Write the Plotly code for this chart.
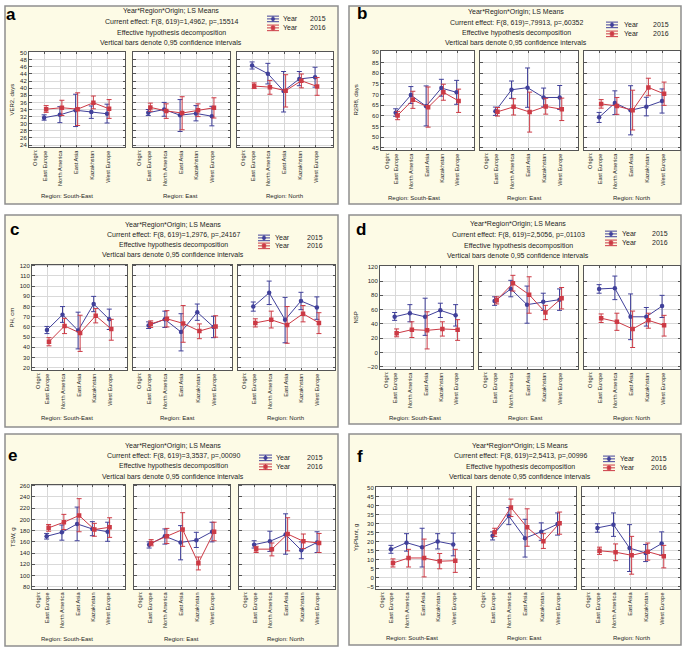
import plotly.graph_objects as go

W, H = 685, 648

CATEGORIES = ["East Europe", "North America", "East Asia", "Kazakhstan", "West Europe"]
REGIONS = ["South-East", "East", "North"]
YEARS = ["2015", "2016"]

# ---- a: VER2, days  (rows: South-East, East, North) ----
VER2_2015_MEAN = [[31.7, 32.5, 33.8, 33.3, 32.8], [33.1, 34.0, 32.4, 32.9, 32.1], [46.4, 44.1, 39.2, 42.6, 43.1]]
VER2_2015_LO = [[31.0, 30.3, 29.2, 31.5, 30.2], [32.3, 32.1, 27.8, 30.8, 29.4], [45.4, 41.2, 33.3, 40.7, 40.3]]
VER2_2015_HI = [[32.5, 34.8, 38.3, 35.0, 35.5], [34.0, 36.0, 36.8, 35.1, 34.9], [47.4, 47.0, 44.7, 44.7, 45.9]]
VER2_2016_MEAN = [[34.1, 34.5, 34.1, 35.9, 34.2], [34.6, 33.6, 33.0, 33.8, 34.5], [40.6, 40.3, 39.3, 42.1, 40.5]]
VER2_2016_LO = [[33.2, 32.3, 29.5, 34.2, 31.5], [33.5, 31.5, 28.3, 32.0, 31.6], [39.9, 38.3, 34.7, 40.1, 38.0]]
VER2_2016_HI = [[35.1, 36.6, 38.7, 37.8, 36.8], [35.8, 35.6, 37.6, 35.6, 37.3], [41.5, 42.2, 43.8, 44.0, 43.0]]

# ---- b: R2R8, days ----
R2R8_2015_MEAN = [[61.5, 69.7, 64.5, 73.0, 71.0], [62.2, 72.2, 73.2, 68.6, 68.6], [59.3, 66.0, 62.6, 64.3, 66.9]]
R2R8_2015_LO = [[59.8, 65.8, 55.3, 69.2, 65.4], [60.2, 68.2, 64.0, 64.2, 63.0], [56.9, 60.6, 51.1, 60.0, 61.3]]
R2R8_2015_HI = [[63.3, 73.7, 74.0, 77.1, 76.6], [64.1, 76.3, 82.4, 73.0, 74.2], [61.6, 71.7, 74.1, 68.7, 72.6]]
R2R8_2016_MEAN = [[60.2, 67.5, 64.0, 71.0, 67.0], [61.9, 64.2, 61.8, 64.4, 63.1], [65.6, 64.6, 62.6, 73.3, 70.3]]
R2R8_2016_LO = [[58.2, 63.5, 54.7, 67.3, 61.6], [59.9, 60.4, 52.4, 60.8, 57.8], [63.6, 60.7, 53.4, 69.4, 64.9]]
R2R8_2016_HI = [[62.1, 71.5, 73.5, 74.8, 72.5], [63.9, 68.0, 71.1, 68.2, 68.3], [67.6, 68.6, 72.0, 77.6, 75.8]]

# ---- c: PH, cm ----
PH_2015_MEAN = [[57.0, 72.0, 56.5, 82.5, 67.5], [61.5, 67.5, 55.0, 74.5, 60.0], [80.0, 93.5, 67.0, 85.5, 79.0]]
PH_2015_LO = [[53.5, 64.5, 38.5, 75.0, 57.5], [58.5, 59.5, 36.5, 66.5, 49.5], [75.5, 82.0, 44.5, 77.0, 67.5]]
PH_2015_HI = [[60.5, 80.0, 74.5, 90.0, 77.5], [65.0, 75.5, 73.0, 82.5, 70.5], [84.5, 105.0, 89.0, 94.0, 89.5]]
PH_2016_MEAN = [[45.5, 61.0, 54.0, 71.0, 58.0], [63.0, 68.0, 63.5, 56.0, 60.5], [64.0, 67.0, 62.0, 73.0, 64.0]]
PH_2016_LO = [[41.5, 53.5, 36.0, 64.0, 47.0], [59.5, 60.0, 45.0, 48.5, 50.0], [60.0, 59.0, 44.0, 65.0, 53.5]]
PH_2016_HI = [[49.5, 68.5, 71.5, 78.0, 67.5], [66.0, 76.0, 81.0, 63.0, 71.0], [68.0, 75.5, 80.0, 81.0, 74.0]]

# ---- d: NSP ----
NSP_2015_MEAN = [[50, 55, 50, 59, 52], [72, 89, 67, 71, 74], [89, 90, 50, 50, 65]]
NSP_2015_LO = [[45, 43, 24, 49, 37], [66, 78, 41, 59, 59], [83, 74, 18, 37, 49]]
NSP_2015_HI = [[56, 67, 76, 69, 67], [78, 101, 93, 83, 89], [95, 107, 82, 63, 80]]
NSP_2016_MEAN = [[27, 32, 31, 33, 32], [73, 97, 81, 56, 76], [48, 43, 33, 45, 38]]
NSP_2016_LO = [[22, 21, 5, 23, 17], [68, 86, 55, 46, 61], [42, 31, 7, 34, 23]]
NSP_2016_HI = [[33, 43, 57, 43, 46], [78, 108, 106, 66, 91], [54, 55, 58, 55, 52]]

# ---- e: TSW, g ----
TSW_2015_MEAN = [[170, 177, 192, 183, 178], [155, 170, 159, 163, 178], [155, 161, 173, 145, 159]]
TSW_2015_LO = [[165, 163, 162, 171, 161], [149, 156, 128, 150, 160], [149, 143, 138, 130, 141]]
TSW_2015_HI = [[175, 190, 222, 196, 195], [160, 183, 189, 177, 195], [162, 179, 210, 160, 178]]
TSW_2016_MEAN = [[185, 195, 207, 182, 186], [158, 170, 182, 122, 178], [147, 147, 174, 161, 158]]
TSW_2016_LO = [[179, 182, 178, 170, 168], [153, 157, 152, 110, 162], [141, 135, 144, 148, 141]]
TSW_2016_HI = [[191, 209, 237, 193, 203], [164, 184, 212, 133, 195], [152, 158, 203, 174, 175]]

# ---- f: YpPlant, g ----
YP_2015_MEAN = [[15.8, 19.5, 17.0, 20.2, 18.5], [23.3, 34.3, 22.0, 25.6, 29.8], [27.7, 29.5, 16.5, 13.8, 19.0]]
YP_2015_LO = [[13.6, 14.8, 6.0, 16.0, 12.2], [21.0, 29.5, 11.5, 20.8, 23.7], [25.3, 23.0, 3.5, 9.0, 12.5]]
YP_2015_HI = [[18.0, 24.5, 27.5, 24.5, 24.8], [25.5, 39.0, 32.5, 30.5, 36.0], [30.0, 36.0, 29.5, 18.5, 25.5]]
YP_2016_MEAN = [[8.2, 11.0, 11.0, 9.2, 9.5], [25.3, 39.0, 28.0, 20.3, 30.3], [15.0, 14.2, 12.5, 14.5, 12.0]]
YP_2016_LO = [[6.0, 6.0, 0.5, 5.0, 3.0], [23.0, 34.0, 17.5, 16.3, 24.2], [13.0, 9.5, 2.0, 9.8, 5.5]]
YP_2016_HI = [[10.5, 15.8, 21.5, 13.5, 15.8], [27.5, 43.7, 38.3, 24.5, 36.5], [17.0, 18.8, 23.0, 19.3, 18.0]]

Y_LABELS = ["VER2, days", "R2R8, days", "PH, cm", "NSP", "TSW, g", "YpPlant, g"]
EFFECTS = [
    "Current effect: F(8, 619)=1,4962, p=,15514",
    "Current effect: F(8, 619)=,79913, p=,60352",
    "Current effect: F(8, 619)=1,2976, p=,24167",
    "Current effect: F(8, 619)=2,5056, p=,01103",
    "Current effect: F(8, 619)=3,3537, p=,00090",
    "Current effect: F(8, 619)=2,5413, p=,00996",
]
Y_TICKS = [(24, 50, 2), (45, 90, 5), (20, 120, 10), (-20, 120, 20), (80, 260, 20), (-5, 50, 5)]
LETTERS = ["a", "b", "c", "d", "e", "f"]

DATA = [
    (VER2_2015_MEAN, VER2_2015_LO, VER2_2015_HI, VER2_2016_MEAN, VER2_2016_LO, VER2_2016_HI),
    (R2R8_2015_MEAN, R2R8_2015_LO, R2R8_2015_HI, R2R8_2016_MEAN, R2R8_2016_LO, R2R8_2016_HI),
    (PH_2015_MEAN, PH_2015_LO, PH_2015_HI, PH_2016_MEAN, PH_2016_LO, PH_2016_HI),
    (NSP_2015_MEAN, NSP_2015_LO, NSP_2015_HI, NSP_2016_MEAN, NSP_2016_LO, NSP_2016_HI),
    (TSW_2015_MEAN, TSW_2015_LO, TSW_2015_HI, TSW_2016_MEAN, TSW_2016_LO, TSW_2016_HI),
    (YP_2015_MEAN, YP_2015_LO, YP_2015_HI, YP_2016_MEAN, YP_2016_LO, YP_2016_HI),
]

# ---- geometry in pixels ----
GEOM = [
    dict(box=(5, 4, 338, 203), px=[(29, 125), (133, 230), (237, 333)], py=(50, 146), tcx=171,
         ty=[9, 20, 31, 41], let=(11, 13), leg=(267, 279, 281, 308), legy=(17, 26), ylx=12,
         regx=[67, 180, 284], regy=195),
    dict(box=(349, 4, 681, 203), px=[(381, 474), (480, 578), (584, 680)], py=(49, 149), tcx=516,
         ty=[10, 21, 31, 41], let=(362, 12), leg=(606, 618, 622, 651), legy=(23, 32), ylx=356,
         regx=[414, 524, 631], regy=197),
    dict(box=(5, 214, 338, 427), px=[(32, 127), (133, 232), (238, 335)], py=(264, 370), tcx=173,
         ty=[224, 234, 244, 254], let=(14, 229), leg=(258, 270, 273, 305), legy=(237, 245), ylx=12,
         regx=[67, 177, 285], regy=418),
    dict(box=(349, 214, 681, 424), px=[(380, 473), (479, 578), (584, 680)], py=(265, 369), tcx=518,
         ty=[223, 234, 245, 255], let=(361, 229), leg=(605, 617, 620, 650), legy=(233, 242), ylx=356,
         regx=[415, 525, 631], regy=418),
    dict(box=(5, 434, 338, 647), px=[(32, 125), (134, 230), (239, 335)], py=(485, 590), tcx=173,
         ty=[446, 456, 466, 477], let=(12, 456), leg=(259, 272, 274, 305), legy=(458, 467), ylx=13,
         regx=[67, 181, 285], regy=640),
    dict(box=(349, 434, 681, 646), px=[(376, 471), (477, 576), (582, 680)], py=(487, 590), tcx=520,
         ty=[446, 456, 467, 477], let=(360, 457), leg=(603, 615, 618, 649), legy=(459, 468), ylx=356,
         regx=[412, 524, 631], regy=639),
]

BLUE = "#40409A"
RED = "#CC3A45"
COLORS = [BLUE, RED]
SYMBOLS = ["circle", "square"]
OFFSETS = [-0.04, 0.09]
FONT = "Liberation Sans, Arial, sans-serif"
TXT = "#1E1E1E"
GRID = "#D9D9D9"
FRAME = "#555555"


def fx(p):
    return p / W


def fy(p):
    return 1 - p / H


fig = go.Figure()
layout = dict(width=W, height=H, margin=dict(l=0, r=0, t=0, b=0), autosize=False,
              paper_bgcolor="white", plot_bgcolor="white", showlegend=False,
              font=dict(family=FONT, color=TXT))
shapes = []
annotations = []
XR = [-1.0, 5.1]

for p in range(6):
    g = GEOM[p]
    bx0, by0, bx1, by1 = g["box"]
    shapes.append(dict(type="rect", xref="paper", yref="paper", x0=fx(bx0), x1=fx(bx1), y0=fy(by1), y1=fy(by0),
                       fillcolor="#FDFBE6", line=dict(color="#8E8E8E", width=1.5), layer="below"))
    ymin, ymax, dt = Y_TICKS[p]
    span = ymax - ymin
    yr = [ymin - 0.025 * span, ymax + 0.01 * span]
    means = [DATA[p][0], DATA[p][3]]
    los = [DATA[p][1], DATA[p][4]]
    his = [DATA[p][2], DATA[p][5]]
    for r in range(3):
        k = p * 3 + r + 1
        x0, x1 = g["px"][r]
        py0, py1 = g["py"]
        shapes.append(dict(type="rect", xref="paper", yref="paper", x0=fx(x0), x1=fx(x1), y0=fy(py1), y1=fy(py0),
                           fillcolor="white", line=dict(width=0), layer="below"))
        xn = "xaxis" if k == 1 else f"xaxis{k}"
        yn = "yaxis" if k == 1 else f"yaxis{k}"
        xid = "x" if k == 1 else f"x{k}"
        yid = "y" if k == 1 else f"y{k}"
        layout[xn] = dict(domain=[fx(x0), fx(x1)], anchor=yid, range=XR, tickmode="array",
                          tickvals=list(range(len(CATEGORIES))), ticktext=CATEGORIES, tickangle=-90,
                          tickfont=dict(size=5.6, family=FONT, color=TXT), showgrid=True, gridcolor=GRID,
                          gridwidth=1, zeroline=False, showline=True, linecolor=FRAME, linewidth=1,
                          mirror="ticks", ticks="inside", ticklen=2.5, tickcolor=FRAME, fixedrange=True)
        layout[yn] = dict(domain=[fy(py1), fy(py0)], anchor=xid, range=yr, tickmode="linear",
                          tick0=ymin, dtick=dt, showticklabels=(r == 0),
                          tickfont=dict(size=6, family=FONT, color=TXT), showgrid=True, gridcolor=GRID,
                          gridwidth=1, zeroline=False, showline=True, linecolor=FRAME, linewidth=1,
                          mirror="ticks", ticks="inside", ticklen=2.5, tickcolor=FRAME, fixedrange=True)
        # overlay axis carrying the "Origin:" label
        ko = 18 + k
        xo = f"x{ko}"
        layout[f"xaxis{ko}"] = dict(overlaying=xid, anchor=yid, range=XR, tickmode="array",
                                    tickvals=[-0.62], ticktext=["Origin:"], tickangle=-90,
                                    tickfont=dict(size=5.6, family=FONT, color=TXT), showgrid=False,
                                    zeroline=False, showline=False, ticks="", fixedrange=True)
        fig.add_trace(go.Scatter(x=[None], y=[None], xaxis=xo, yaxis=yid, mode="markers",
                                 marker=dict(opacity=0), hoverinfo="skip", showlegend=False))
        for j in range(2):
            m = means[j][r]
            lo = los[j][r]
            hi = his[j][r]
            fig.add_trace(go.Scatter(
                x=[i + OFFSETS[j] for i in range(len(CATEGORIES))], y=m,
                xaxis=xid, yaxis=yid, mode="lines+markers", name=f"Year {YEARS[j]}",
                line=dict(color=COLORS[j], width=1),
                marker=dict(symbol=SYMBOLS[j], size=4.5, color=COLORS[j], line=dict(width=0)),
                error_y=dict(type="data", symmetric=False,
                             array=[h - v for h, v in zip(hi, m)],
                             arrayminus=[v - l for v, l in zip(m, lo)],
                             color=COLORS[j], thickness=1, width=2.5),
                hoverinfo="skip"))
        # region label
        annotations.append(dict(x=fx(g["regx"][r]), y=fy(g["regy"]), xref="paper", yref="paper",
                                text=f"Region: {REGIONS[r]}", showarrow=False, xanchor="center",
                                yanchor="middle", font=dict(size=6, family=FONT, color=TXT)))
    # titles
    lines = ["Year*Region*Origin; LS Means", EFFECTS[p], "Effective hypothesis decomposition",
             "Vertical bars denote 0,95 confidence intervals"]
    for t, ty in zip(lines, g["ty"]):
        annotations.append(dict(x=fx(g["tcx"]), y=fy(ty), xref="paper", yref="paper", text=t,
                                showarrow=False, xanchor="center", yanchor="middle",
                                font=dict(size=7, family=FONT, color=TXT)))
    # panel letter
    annotations.append(dict(x=fx(g["let"][0]), y=fy(g["let"][1]), xref="paper", yref="paper",
                            text=f"<b>{LETTERS[p]}</b>", showarrow=False, xanchor="center", yanchor="middle",
                            font=dict(size=17, family=FONT, color="black")))
    # y label
    annotations.append(dict(x=fx(g["ylx"]), y=fy((g["py"][0] + g["py"][1]) / 2), xref="paper", yref="paper",
                            text=Y_LABELS[p], showarrow=False, textangle=-90, xanchor="center",
                            yanchor="middle", font=dict(size=6, family=FONT, color=TXT)))
    # legend
    lx0, lx1, tx1, tx2 = g["leg"]
    for j in range(2):
        ly = g["legy"][j]
        c = COLORS[j]
        for dy in (-2.8, 0, 2.8):
            shapes.append(dict(type="line", xref="paper", yref="paper", x0=fx(lx0), x1=fx(lx1),
                               y0=fy(ly + dy), y1=fy(ly + dy), line=dict(color=c, width=1)))
        cx = (lx0 + lx1) / 2
        shapes.append(dict(type="line", xref="paper", yref="paper", x0=fx(cx), x1=fx(cx),
                           y0=fy(ly - 2.8), y1=fy(ly + 2.8), line=dict(color=c, width=1)))
        shapes.append(dict(type="circle" if j == 0 else "rect", xref="paper", yref="paper",
                           x0=fx(cx - 1.8), x1=fx(cx + 1.8), y0=fy(ly + 1.8), y1=fy(ly - 1.8),
                           fillcolor=c, line=dict(color=c, width=0.5)))
        annotations.append(dict(x=fx(tx1), y=fy(ly), xref="paper", yref="paper", text="Year",
                                showarrow=False, xanchor="left", yanchor="middle",
                                font=dict(size=7, family=FONT, color=TXT)))
        annotations.append(dict(x=fx(tx2), y=fy(ly), xref="paper", yref="paper", text=YEARS[j],
                                showarrow=False, xanchor="left", yanchor="middle",
                                font=dict(size=7, family=FONT, color=TXT)))

layout["shapes"] = shapes
layout["annotations"] = annotations
fig.update_layout(**layout)
fig.write_html("out.html", config={"displayModeBar": False, "staticPlot": True},
               post_script="document.body.style.margin='0';document.body.style.overflow='hidden';")
